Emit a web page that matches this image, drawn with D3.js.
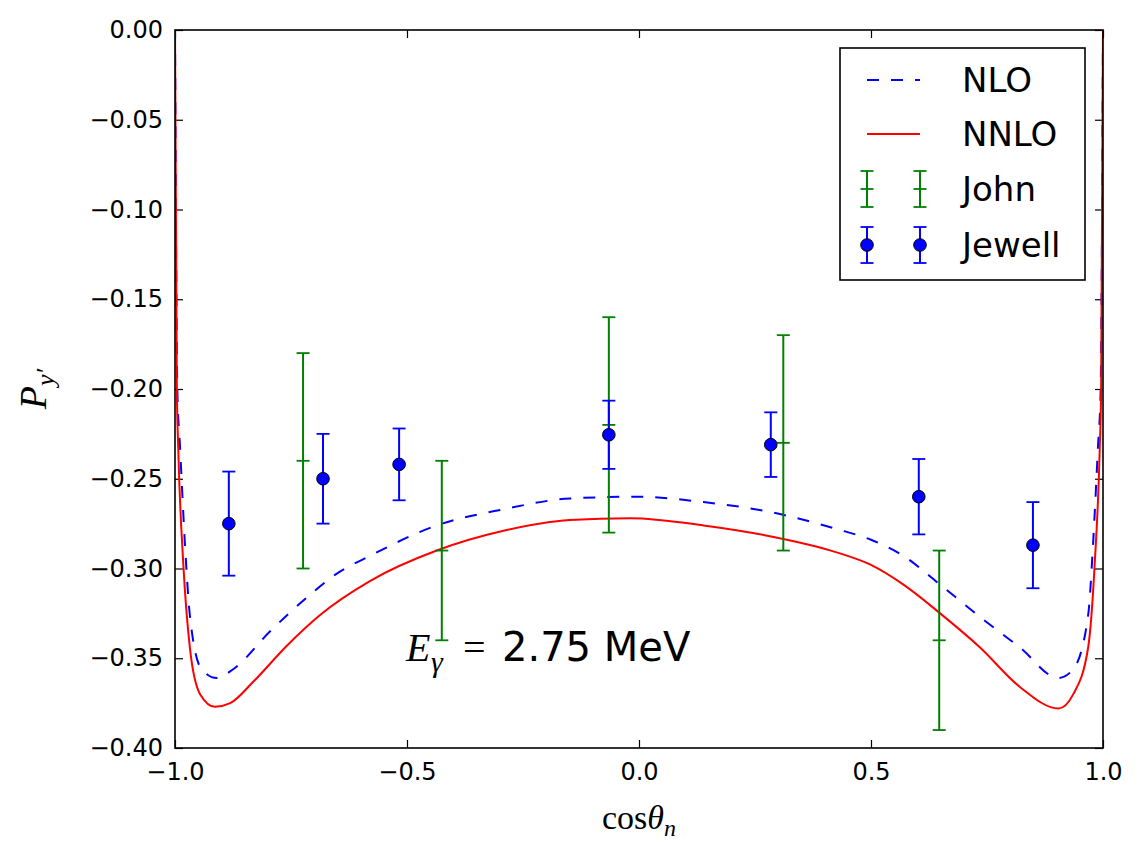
<!DOCTYPE html>
<html>
<head>
<meta charset="utf-8">
<script src="https://cdn.jsdelivr.net/npm/d3@7"></script>
<style>
  body { margin: 0; background: #fff; }
  .tick text { font-family: "DejaVu Sans", sans-serif; font-size: 24px; fill: #000; }
</style>
</head>
<body>
<div class="canva"></div>
<script>
// theory curves
const nloX = [-1, -0.995, -0.989, -0.978, -0.968, -0.943, -0.910, -0.874, -0.795, -0.724, -0.652, -0.580,
              -0.436, -0.292, -0.149, -0.005, 0.139, 0.282, 0.426, 0.500, 0.570, 0.649, 0.735, 0.821, 0.904,
              0.936, 0.968, 0.978, 0.989, 0.995, 1];
const nloY = [0, -0.200, -0.233, -0.289, -0.326, -0.356, -0.361, -0.356, -0.335, -0.318, -0.303, -0.293,
              -0.276, -0.267, -0.261, -0.260, -0.263, -0.2685, -0.278, -0.284, -0.293, -0.309, -0.327, -0.344, -0.361,
              -0.356, -0.326, -0.289, -0.233, -0.200, 0];

const nnloX = [-1, -0.996, -0.993, -0.982, -0.968, -0.946, -0.914, -0.881, -0.831, -0.759, -0.688, -0.580,
               -0.436, -0.292, -0.149, -0.019, 0.139, 0.282, 0.426, 0.500, 0.570, 0.649, 0.735, 0.821, 0.904,
               0.936, 0.968, 0.982, 0.993, 0.996, 1];
const nnloY = [0, -0.200, -0.233, -0.298, -0.344, -0.370, -0.377, -0.375, -0.363, -0.343, -0.326, -0.307,
               -0.290, -0.279, -0.273, -0.272, -0.276, -0.282, -0.291, -0.298, -0.309, -0.325, -0.344, -0.366, -0.378,
               -0.370, -0.344, -0.298, -0.233, -0.200, 0];

// measurements
const johnX = [-0.724, -0.425, -0.065, 0.311, 0.647];
const johnY = [-0.24, -0.29, -0.22, -0.23, -0.34];
const johnErr = [0.06, 0.05, 0.06, 0.06, 0.05];

const jewellX = [-0.884, -0.681, -0.517, -0.065, 0.284, 0.603, 0.849];
const jewellY = [-0.275, -0.250, -0.242, -0.2255, -0.231, -0.260, -0.287];
const jewellErr = [0.029, 0.025, 0.020, 0.019, 0.018, 0.021, 0.024];

const xTicks = [-1, -0.5, 0, 0.5, 1];
const yTicks = [0, -0.05, -0.10, -0.15, -0.20, -0.25, -0.30, -0.35, -0.40];

const legendNames = ["NLO", "NNLO", "John", "Jewell"];

const svg = d3.select(".canva").append("svg")
    .attr("width", 1144)
    .attr("height", 855);

const margin = {top: 30, right: 41, bottom: 107, left: 175};
const graphWidth = 1144 - margin.left - margin.right;
const graphHeight = 855 - margin.top - margin.bottom;

const x = d3.scaleLinear().domain([-1, 1]).range([margin.left, margin.left + graphWidth]);
const y = d3.scaleLinear().domain([-0.4, 0]).range([margin.top + graphHeight, margin.top]);

svg.append("clipPath").attr("id", "clip")
  .append("rect")
    .attr("x", margin.left).attr("y", margin.top)
    .attr("width", graphWidth).attr("height", graphHeight);

// axes, ticks pointing inward
const fmtY = d3.format(".2f");
const fmtX = d3.format(".1f");

svg.append("g")
    .attr("transform", `translate(${margin.left},0)`)
    .call(d3.axisLeft(y).tickValues(yTicks).tickSize(-8).tickPadding(12).tickFormat(fmtY));
svg.append("g")
    .attr("transform", `translate(${margin.left + graphWidth},0)`)
    .call(d3.axisRight(y).tickValues(yTicks).tickSize(-8).tickFormat(""));
svg.append("g")
    .attr("transform", `translate(0,${margin.top + graphHeight})`)
    .call(d3.axisBottom(x).tickValues(xTicks).tickSize(-8).tickPadding(15).tickFormat(fmtX));
svg.append("g")
    .attr("transform", `translate(0,${margin.top})`)
    .call(d3.axisTop(x).tickValues(xTicks).tickSize(-8).tickFormat(""));

svg.selectAll(".domain").remove();
svg.selectAll(".tick line").attr("stroke", "#000").attr("stroke-width", 1.2);

const plot = svg.append("g").attr("clip-path", "url(#clip)");

const line = d3.line().x(d => x(d[0])).y(d => y(d[1])).curve(d3.curveMonotoneX);

plot.append("path")
    .datum(d3.zip(nloX, nloY))
    .attr("d", line)
    .attr("fill", "none")
    .attr("stroke", "#0000ff")
    .attr("stroke-width", 2)
    .attr("stroke-dasharray", "12,12");

plot.append("path")
    .datum(d3.zip(nnloX, nnloY))
    .attr("d", line)
    .attr("fill", "none")
    .attr("stroke", "#ff0000")
    .attr("stroke-width", 2);

const capW = 6.5;

function errorBars(g, xs, ys, errs, color, midTick) {
    const data = d3.zip(xs, ys, errs);
    g.selectAll(null).data(data).enter().append("line")
        .attr("x1", d => x(d[0])).attr("x2", d => x(d[0]))
        .attr("y1", d => y(d[1] + d[2])).attr("y2", d => y(d[1] - d[2]))
        .attr("stroke", color).attr("stroke-width", 2);
    const caps = midTick ? [1, 0, -1] : [1, -1];
    caps.forEach(s => {
        g.selectAll(null).data(data).enter().append("line")
            .attr("x1", d => x(d[0]) - capW).attr("x2", d => x(d[0]) + capW)
            .attr("y1", d => y(d[1] + s * d[2])).attr("y2", d => y(d[1] + s * d[2]))
            .attr("stroke", color).attr("stroke-width", 1.8);
    });
}

errorBars(plot.append("g"), johnX, johnY, johnErr, "#008000", true);

const jew = plot.append("g");
errorBars(jew, jewellX, jewellY, jewellErr, "#0000ff", false);
jew.selectAll("circle").data(d3.zip(jewellX, jewellY)).enter().append("circle")
    .attr("cx", d => x(d[0])).attr("cy", d => y(d[1]))
    .attr("r", 6.3)
    .attr("fill", "#0000ff")
    .attr("stroke", "#000").attr("stroke-width", 1);

// frame
svg.append("rect")
    .attr("x", margin.left).attr("y", margin.top)
    .attr("width", graphWidth).attr("height", graphHeight)
    .attr("fill", "none").attr("stroke", "#000").attr("stroke-width", 1.6);

// annotation
const serif = "'Liberation Serif', 'DejaVu Serif', serif";
svg.append("text").attr("x", 406).attr("y", 661)
    .attr("font-family", serif).attr("font-style", "italic").attr("font-size", 40)
    .text("E");
svg.append("text").attr("x", 431).attr("y", 672)
    .attr("font-family", serif).attr("font-style", "italic").attr("font-size", 30)
    .text("γ");
svg.append("text").attr("x", 463).attr("y", 661)
    .attr("font-family", serif).attr("font-size", 40)
    .text("=");
svg.append("text").attr("x", 502).attr("y", 661)
    .attr("font-family", "'DejaVu Sans', sans-serif").attr("font-size", 40)
    .text("2.75 MeV");

// axis labels
const xl = svg.append("text")
    .attr("x", 639).attr("y", 829)
    .attr("text-anchor", "middle")
    .attr("font-family", serif).attr("font-size", 34);
xl.append("tspan").text("cos");
xl.append("tspan").attr("font-style", "italic").text("θ");
xl.append("tspan").attr("font-style", "italic").attr("font-size", 24).attr("dy", 7).text("n");

const yl = svg.append("text")
    .attr("transform", "translate(46,389) rotate(-90)")
    .attr("text-anchor", "middle")
    .attr("font-family", serif).attr("font-size", 38);
yl.append("tspan").attr("font-style", "italic").text("P");
yl.append("tspan").attr("font-style", "italic").attr("font-size", 26).attr("dy", 8).text("y′");

// legend
const legend = svg.append("g");
legend.append("rect")
    .attr("x", 840).attr("y", 48).attr("width", 245).attr("height", 232)
    .attr("fill", "#fff").attr("stroke", "#000").attr("stroke-width", 1.6);

const rowY = [80, 134, 189, 245];
const hx1 = 867, hx2 = 920;

legend.append("line").attr("x1", hx1).attr("x2", hx2).attr("y1", rowY[0]).attr("y2", rowY[0])
    .attr("stroke", "#0000ff").attr("stroke-width", 2).attr("stroke-dasharray", "12,12");
legend.append("line").attr("x1", hx1).attr("x2", hx2).attr("y1", rowY[1]).attr("y2", rowY[1])
    .attr("stroke", "#ff0000").attr("stroke-width", 2);

[hx1, hx2].forEach(hx => {
    legend.append("line").attr("x1", hx).attr("x2", hx).attr("y1", rowY[2] - 18).attr("y2", rowY[2] + 18)
        .attr("stroke", "#008000").attr("stroke-width", 2);
    [-18, 0, 18].forEach(o => legend.append("line")
        .attr("x1", hx - capW).attr("x2", hx + capW).attr("y1", rowY[2] + o).attr("y2", rowY[2] + o)
        .attr("stroke", "#008000").attr("stroke-width", 1.8));
    legend.append("line").attr("x1", hx).attr("x2", hx).attr("y1", rowY[3] - 18).attr("y2", rowY[3] + 18)
        .attr("stroke", "#0000ff").attr("stroke-width", 2);
    [-18, 18].forEach(o => legend.append("line")
        .attr("x1", hx - capW).attr("x2", hx + capW).attr("y1", rowY[3] + o).attr("y2", rowY[3] + o)
        .attr("stroke", "#0000ff").attr("stroke-width", 1.8));
    legend.append("circle").attr("cx", hx).attr("cy", rowY[3]).attr("r", 6.3)
        .attr("fill", "#0000ff").attr("stroke", "#000").attr("stroke-width", 1);
});

legend.selectAll("text.lab").data(legendNames).enter().append("text")
    .attr("class", "lab")
    .attr("x", 962)
    .attr("y", (d, i) => rowY[i] + 12)
    .attr("font-family", "'DejaVu Sans', sans-serif")
    .attr("font-size", 34)
    .text(d => d);
</script>
</body>
</html>
